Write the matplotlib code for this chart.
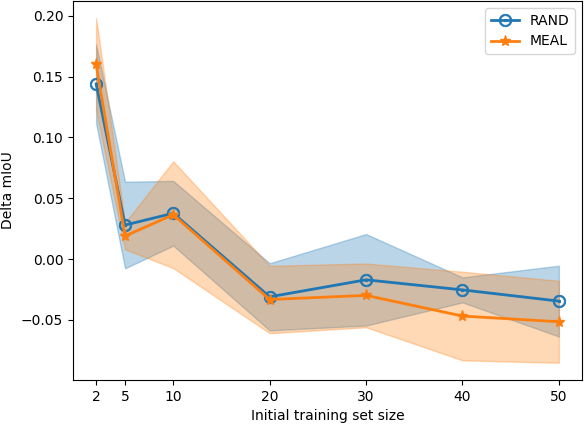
import matplotlib
matplotlib.use("Agg")
import matplotlib.pyplot as plt
import numpy as np

sizes = [2, 5, 10, 20, 30, 40, 50]

rand_mean = [0.1440, 0.0280, 0.0377, -0.0310, -0.0170, -0.0253, -0.0345]
rand_std = [0.0325, 0.0356, 0.0266, 0.0276, 0.0376, 0.0103, 0.0291]

meal_mean = [0.1600, 0.0190, 0.0365, -0.0332, -0.0298, -0.0468, -0.0515]
meal_std = [0.0380, 0.0110, 0.0439, 0.0277, 0.0262, 0.0364, 0.0337]

fig, ax = plt.subplots(figsize=(5.84, 4.24), dpi=100)
fig.subplots_adjust(left=0.125, right=0.9966, top=0.9976, bottom=0.1038)

for mean, std, label, color, marker, ms, mew in [
    (rand_mean, rand_std, "RAND", "C0", r"$\odot$", 9, 0.6),
    (meal_mean, meal_std, "MEAL", "C1", "*", 8, 1.0),
]:
    m = np.array(mean)
    s = np.array(std)
    ax.plot(sizes, m, marker=marker, color=color, lw=2, ms=ms, mew=mew,
            label=label)
    ax.fill_between(sizes, m - s, m + s, color=color, alpha=0.3)

ax.set_xticks(sizes)
ax.set_xlabel("Initial training set size")
ax.set_ylabel("Delta mIoU")
ax.legend(loc="upper right")

fig.savefig("out.png", dpi=100)
